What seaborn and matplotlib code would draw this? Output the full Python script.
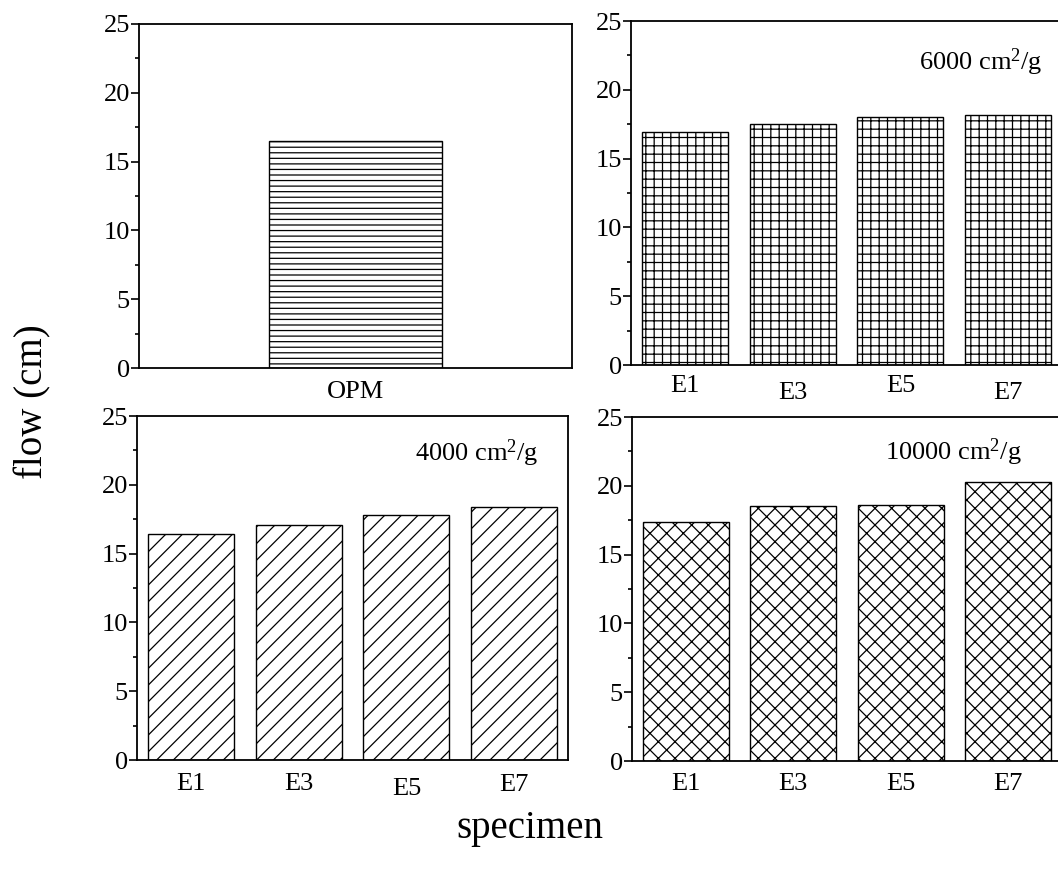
import matplotlib
matplotlib.use("Agg")
import matplotlib.pyplot as plt
import matplotlib.transforms as mtransforms
from matplotlib.ticker import MultipleLocator, AutoMinorLocator
import seaborn as sns
import pandas as pd

# Flow of mortar specimens (cm)
opm_labels = ["OPM"]
opm_flow = [16.5]

specimens = ["E1", "E3", "E5", "E7"]
flow_4000 = [16.4, 17.05, 17.8, 18.4]
flow_6000 = [16.9, 17.5, 18.0, 18.2]
flow_10000 = [17.4, 18.5, 18.6, 20.3]

sns.set_style("ticks")
plt.rcParams["font.family"] = ["Liberation Serif", "DejaVu Serif"]
plt.rcParams["mathtext.fontset"] = "custom"
plt.rcParams["mathtext.rm"] = "Liberation Serif"
plt.rcParams["mathtext.it"] = "Liberation Serif:italic"
plt.rcParams["hatch.linewidth"] = 0.9
plt.rcParams["hatch.color"] = "black"

W, H = 1058, 872
fig = plt.figure(figsize=(W / 100, H / 100), dpi=100)


def px_axes(left, top, right, bottom):
    return fig.add_axes([left / W, 1 - bottom / H, (right - left) / W, (bottom - top) / H])


ax_opm = px_axes(139, 24, 572, 368)
ax_6000 = px_axes(631, 21, 1062, 365)
ax_4000 = px_axes(137, 416, 568, 760)
ax_10000 = px_axes(632, 417, 1062, 761)

panels = [
    (ax_opm, opm_labels, opm_flow, "---", 0.4, None),
    (ax_6000, specimens, flow_6000, "++", 0.8, ("6000", 3.32, 22.0)),
    (ax_4000, specimens, flow_4000, "//", 0.8, ("4000", 3.23, 22.3)),
    (ax_10000, specimens, flow_10000, "xx", 0.8, ("10000", 3.13, 22.45)),
]

for ax, cats, vals, hatch, width, note in panels:
    df = pd.DataFrame({"specimen": cats, "flow": vals})
    sns.barplot(data=df, x="specimen", y="flow", ax=ax, color="white",
                edgecolor="black", linewidth=1.0, width=width, saturation=1)
    for bar in ax.patches:
        bar.set_hatch(hatch)
        bar.set_facecolor("white")
        bar.set_edgecolor("black")
    ax.set_xlim(-0.5, len(cats) - 0.5)
    ax.set_ylim(0, 25)
    ax.yaxis.set_major_locator(MultipleLocator(5))
    ax.yaxis.set_minor_locator(AutoMinorLocator(2))
    ax.tick_params(axis="y", which="major", direction="out", length=6, width=1.2,
                   pad=0.5, labelsize=19, color="black", labelcolor="black")
    ax.tick_params(axis="y", which="minor", direction="out", length=3, width=1.2,
                   color="black")
    ax.tick_params(axis="x", length=0, pad=9, labelsize=19, labelcolor="black")
    ax.set_xlabel("")
    ax.set_ylabel("")
    for side in ["top", "right", "left", "bottom"]:
        ax.spines[side].set_visible(True)
        ax.spines[side].set_linewidth(1.3)
        ax.spines[side].set_color("black")
    if note is not None:
        value, nx, ny = note
        ax.text(nx, ny, value + r" cm$^{\mathregular{2}}$/g", ha="right", va="center",
                fontsize=19, color="black")

# small vertical offsets of individual category labels
offsets = {ax_6000: [2, -3, 2, -3], ax_4000: [0, 0, -4, -1]}
for ax, shifts in offsets.items():
    for lbl, dy in zip(ax.get_xticklabels(), shifts):
        lbl.set_transform(lbl.get_transform() +
                          mtransforms.ScaledTranslation(0, dy / 72, fig.dpi_scale_trans))

fig.text(33 / W, 1 - 402 / H, "flow (cm)", rotation=90, ha="center", va="center",
         fontsize=28, color="black")
fig.text(530 / W, 1 - 828 / H, "specimen", ha="center", va="center",
         fontsize=28, color="black")

fig.savefig("out.png", dpi=100, facecolor="white")
